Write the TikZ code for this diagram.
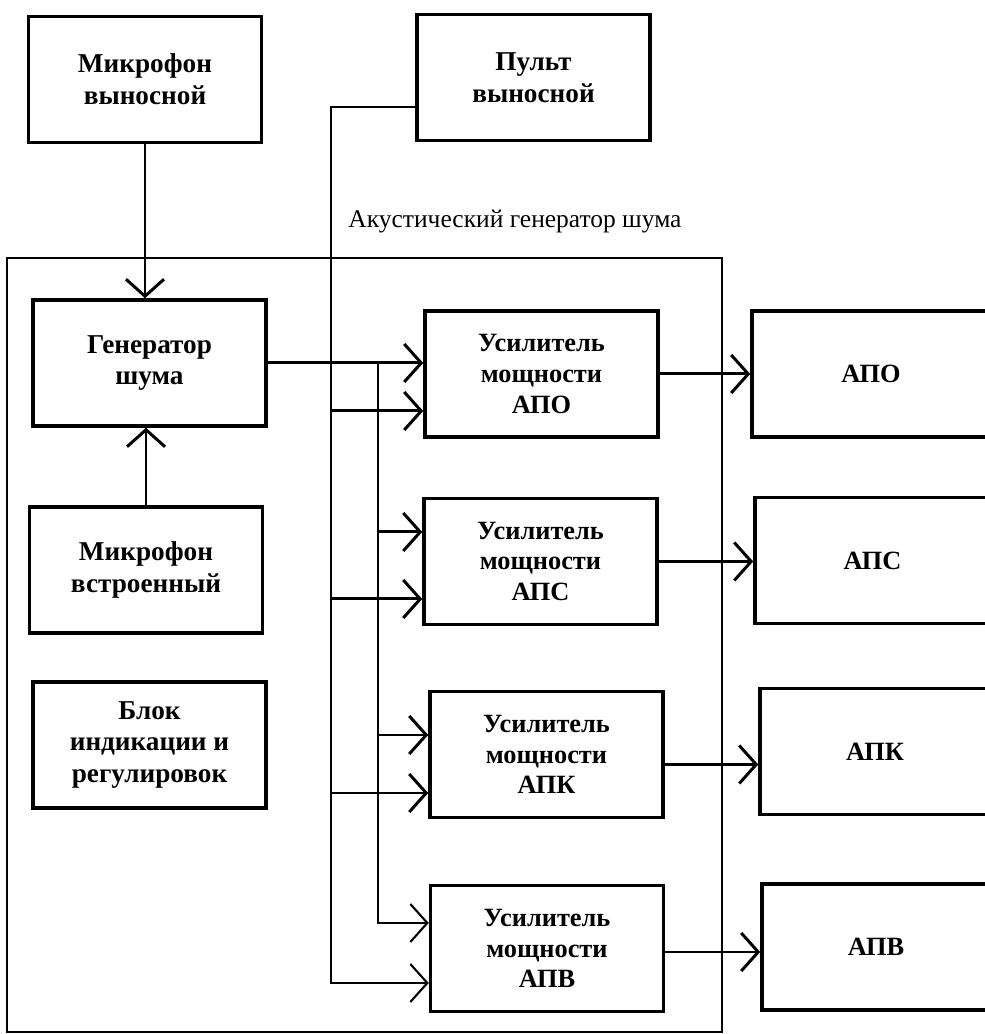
\documentclass[tikz,border=0pt]{standalone}
\usepackage{fontspec}
\setmainfont{Liberation Serif}
\usetikzlibrary{arrows.meta}

\begin{document}
\begin{tikzpicture}[
  blok/.style={draw,line width=2pt,minimum width=4.66cm,minimum height=2.52cm,align=center,font=\fontsize{15.5}{18}\selectfont\bfseries},
  usil/.style={blok,font=\fontsize{15}{17.5}\selectfont\bfseries},
  svyaz/.style={line width=1.7pt},
  shina/.style={line width=1.2pt},
  strel/.style={svyaz,-{Straight Barb[length=0.34cm,width=0.76cm]}}
]
\useasboundingbox (0,0) rectangle (19.7,20.68);
\clip (0,0) rectangle (19.7,20.68);

\node[blok] (mikv) at (2.90,19.09) {Микрофон\\выносной};
\node[blok] (pult) at (10.67,19.13) {Пульт\\выносной};
\node (agsh) at (10.30,16.24) {\fontsize{14.5}{16}\selectfont Акустический генератор шума};
\draw[line width=0.8pt] (0.14,0.04) rectangle (14.44,15.52);

\node[blok] (gen) at (2.99,13.42) {Генератор\\шума};
\node[blok] (mikb) at (2.92,9.28) {Микрофон\\встроенный};
\node[blok] (ind) at (2.99,5.78) {Блок\\индикации и\\регулировок};

\node[usil] (uso) at (10.83,13.20) {Усилитель\\мощности\\АПО};
\node[usil] (usc) at (10.81,9.45) {Усилитель\\мощности\\АПС};
\node[usil] (usk) at (10.93,5.59) {Усилитель\\мощности\\АПК};
\node[usil] (usv) at (10.94,1.71) {Усилитель\\мощности\\АПВ};

\node[usil,minimum width=4.76cm] (apo) at (17.42,13.20) {АПО};
\node[usil,minimum width=4.70cm] (aps) at (17.45,9.47) {АПС};
\node[usil,minimum width=4.60cm] (apk) at (17.50,5.65) {АПК};
\node[usil,minimum width=4.56cm] (apv) at (17.52,1.74) {АПВ};

\draw[strel] (mikv.south) -- (mikv.south |- gen.north);
\draw[strel] (mikb.north) -- (mikb.north |- gen.south);

\coordinate (p1) at (6.62,18.54);
\coordinate (pv) at (6.62,1.02);
\draw[strel,shina] (pult.west |- p1) -- (p1) -- (pv) -- (usv.west |- pv);
\foreach \y/\u in {12.46/uso, 8.70/usc, 4.82/usk}
  \draw[strel] (6.62,\y) -- (\u.west |- 0,\y);

\draw[strel] (gen.east) -- (gen.east -| uso.west);
\coordinate (ws) at (gen.east -| 7.56,0);
\draw[strel,shina] (ws) |- (usv.west |- 0,2.22);
\foreach \y/\u in {10.04/usc, 5.98/usk}
  \draw[strel] (7.56,\y) -- (\u.west |- 0,\y);

\foreach \u/\a/\s in {uso/apo/0, usc/aps/0, usk/apk/-0.2, usv/apv/-0.07}
  \draw[strel] ([yshift=\s cm]\u.east) -- ([yshift=\s cm]\u.east -| \a.west);
\end{tikzpicture}
\end{document}
